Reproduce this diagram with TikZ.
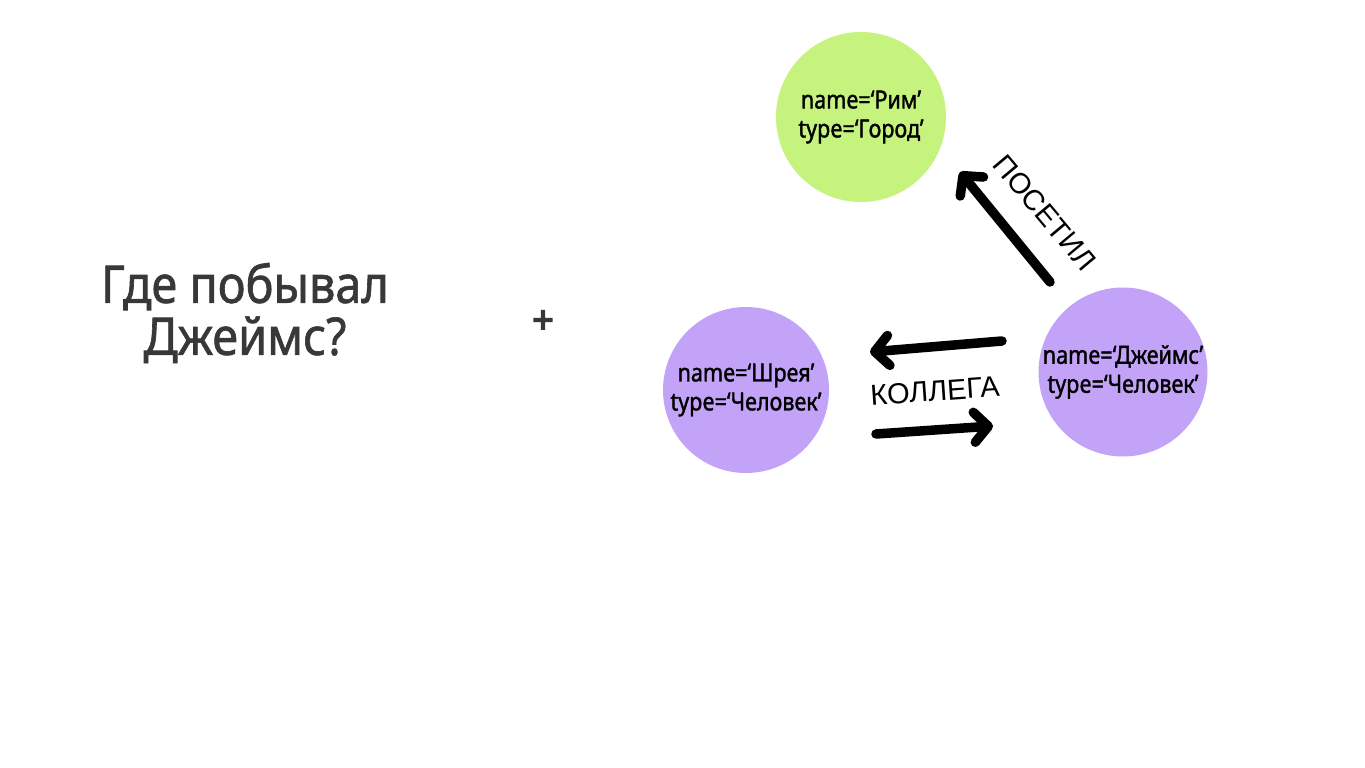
\documentclass[tikz,border=0pt]{standalone}
\usepackage{fontspec}
\setmainfont{Noto Sans}
\newfontfamily\titlefont{Noto Sans}[FakeBold=1.2, FakeStretch=0.9]
\newfontfamily\plusfont{Noto Sans}[FakeBold=4]
\newfontfamily\nodefont{Noto Sans}[FakeBold=1.4, FakeStretch=0.86]
\newfontfamily\labelfont{Liberation Sans}
\usetikzlibrary{arrows.meta}
\definecolor{citygreen}{HTML}{C6F27E}
\definecolor{personlav}{HTML}{C3A3F8}
\definecolor{inkgray}{HTML}{383838}
\tikzset{
  circnode/.style={circle, minimum size=#1, inner sep=0pt, align=center, font=\nodefont\fontsize{25}{29}\selectfont},
  relarrow/.style={line width=9.5pt, line cap=round, -{Straight Barb[length=14pt,width=30pt,round]}, black},
  rellabel/.style={font=\labelfont\fontsize{29}{32}\selectfont}
}
\begin{document}
\begin{tikzpicture}[x=1pt,y=-1pt]
\useasboundingbox (0,0) rectangle (1365,768);
\fill[white] (0,0) rectangle (1365,768);
% title
\node[align=center, text=inkgray, font=\titlefont\fontsize{52}{52}\selectfont] (title) at (245,313) {Где побывал\\Джеймс?};
\node[font=\plusfont\fontsize{38}{38}\selectfont, text=inkgray] (plus) at (543,322) {+};
% nodes
\node[circnode=170pt, fill=citygreen] (rim) at (861,117) {name=‘Рим’\\type=‘Город’};
\node[circnode=166pt, fill=personlav] (shreya) at (746,390) {name=‘Шрея’\\type=‘Человек’};
\node[circnode=166pt, fill=personlav] (james) at (1123,372) {name=‘Джеймс’\\type=‘Человек’};
% arrow ends
\coordinate (v1) at (1050,282);
\coordinate (v2) at (960,172);
\coordinate (k1) at (1002,341);
\coordinate (k2) at (870,352);
\coordinate (k3) at (876,434);
\coordinate (k4) at (993,426);
\draw[relarrow] (v1) -- (v2);
\draw[relarrow] (k1) -- (k2);
\draw[relarrow] (k3) -- (k4);
\node[rellabel, rotate=-50] (visited) at (1045,213) {ПОСЕТИЛ};
\node[rellabel, rotate=4] (colleague) at (935,391) {КОЛЛЕГА};
\end{tikzpicture}
\end{document}
